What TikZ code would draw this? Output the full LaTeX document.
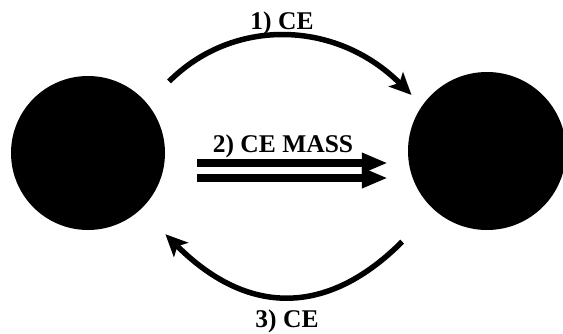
\documentclass[tikz,border=0pt]{standalone}
\usepackage{fontspec}
\setmainfont{Liberation Serif}
\usetikzlibrary{arrows.meta}

\begin{document}
\begin{tikzpicture}[x=1pt, y=1pt,
    ball/.style={circle, fill=black, inner sep=0pt},
    lbl/.style={font=\fontsize{25.5}{30}\selectfont\bfseries, inner sep=0pt, anchor=base},
    arc/.style={line width=5.5pt, -{Stealth[length=22pt, width=20pt, inset=5pt]}},
    bar/.style={line width=8pt, -{Triangle[length=26pt, width=19pt]}}
  ]
  \useasboundingbox (0,0) rectangle (563,333);
  \node[ball, minimum size=154pt] (lc) at (88,180) {};
  \node[ball, minimum size=158pt] (rc) at (487,182) {};

  % step 1 and step 3
  \draw[arc, shorten <=31pt, shorten >=15pt] (lc.40) to[out=45, in=135, looseness=1.13] (rc.145);
  \draw[arc, shorten <=45pt, shorten >=35pt] (rc.228) to[out=225, in=315, looseness=1.32] (lc.313);

  % step 2, double arrow
  \draw[bar, shorten <=32pt, shorten >=20pt] ([yshift=-10pt]lc.east) -- ([yshift=-12pt]rc.west);
  \draw[bar, shorten <=32pt, shorten >=20pt] ([yshift=-25pt]lc.east) -- ([yshift=-27pt]rc.west);

  \node[lbl] (ce1) at (282,304) {1) CE};
  \node[lbl] (ce2) at (283,181) {2) CE MASS};
  \node[lbl] (ce3) at (287,6) {3) CE};
\end{tikzpicture}
\end{document}
